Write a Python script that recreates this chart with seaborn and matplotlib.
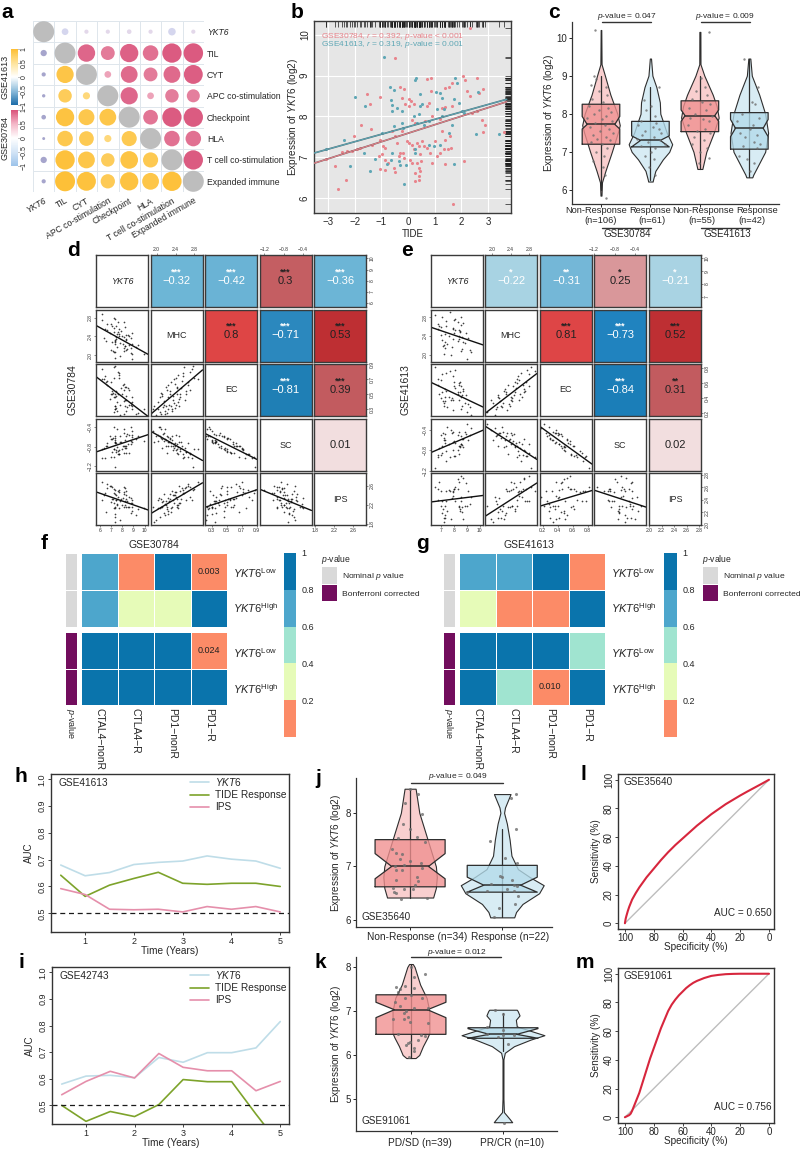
import numpy as np
import pandas as pd
import matplotlib
matplotlib.use("Agg")
import matplotlib.pyplot as plt
from matplotlib.colors import ListedColormap, LinearSegmentedColormap, Normalize
from matplotlib.cm import ScalarMappable
from matplotlib.patches import Rectangle
import seaborn as sns

sns.set_theme(style="ticks")
plt.rcParams['font.family'] = ['Liberation Sans', 'DejaVu Sans']
plt.rcParams['mathtext.fontset'] = 'custom'
plt.rcParams['mathtext.rm'] = 'Liberation Sans'
plt.rcParams['mathtext.it'] = 'Liberation Sans:italic'
plt.rcParams['mathtext.bf'] = 'Liberation Sans:bold'
plt.rcParams['axes.unicode_minus'] = True

# ---------------- DATA ----------------
# panel a
a_labels = ['YKT6', 'TIL', 'CYT', 'APC co-stimulation', 'Checkpoint', 'HLA', 'T cell co-stimulation', 'Expanded immune']
a_30784 = [
    [1, -.32, .2, .2, .22, .2, -.36, .2],
    [0, 1, .83, .66, .87, .74, .92, .93],
    [0, 0, 1, .32, .8, .66, .8, .9],
    [0, 0, 0, 1, .82, .32, .64, .62],
    [0, 0, 0, 0, 1, .7, .92, .92],
    [0, 0, 0, 0, 0, 1, .74, .74],
    [0, 0, 0, 0, 0, 0, 1, .92],
    [0, 0, 0, 0, 0, 0, 0, 1]]
a_41613 = [
    [1, 0, 0, 0, 0, 0, 0, 0],
    [-.3, 1, 0, 0, 0, 0, 0, 0],
    [-.2, .82, 1, 0, 0, 0, 0, 0],
    [-.16, .64, .34, 1, 0, 0, 0, 0],
    [-.22, .87, .76, .8, 1, 0, 0, 0],
    [-.14, .74, .7, .34, .72, 1, 0, 0],
    [-.3, .92, .8, .64, .84, .72, 1, 0],
    [-.2, .95, .9, .68, .87, .8, .92, 1]]

# panel b
b_x_30784 = [-2.62,-2.72,-2.31,-3.07,-2.47,-2.29,-2.10,-1.91,-1.79,-1.33,-1.38,-2.04,-1.75,-1.05,-1.55,-1.43,-.48,-.29,-.13,-.22,
             .05,.12,-.10,.03,.21,.71,.86,.85,1.40,1.55,1.65,2.05,2.15,2.59,2.21,2.34,2.81,2.65,2.34,1.65,
             1.28,.78,.71,2.78,2.88,2.80,3.59,2.59,2.40,1.40,1.21,.90,.65,.15,.28,-.22,-.60,-1.04,-.95,-.85,
             -.48,-.41,-.29,-.16,-.04,.03,.15,.34,.40,.52,.21,.09,.15,.34,.46,.50,.40,.46,.25,.28,
             .40,.43,-.20,-.35,-.48,-.85,-1.04,-.98,-1.10,-.85,-.73,-.54,1.03,1.28,1.40,1.59,1.63,1.50,1.34,1.21,
             1.09,.84,.71,.59,1.69,2.11,.90,1.40]
b_y_30784 = [6.22,6.78,6.43,6.96,7.12,7.15,7.15,7.19,7.23,7.31,7.70,7.52,7.80,8.48,8.54,8.30,9.44,8.73,8.68,8.46,
             8.42,8.38,8.30,8.25,8.30,8.91,8.94,8.62,8.70,8.73,8.81,8.98,8.89,8.95,8.62,8.50,8.68,8.58,10.16,8.25,
             8.21,8.34,8.25,7.91,7.79,7.61,7.61,8.13,8.09,8.24,7.93,8.01,7.89,7.91,7.83,7.64,7.64,7.43,7.27,7.23,
             7.52,7.35,7.11,6.98,7.39,7.35,7.31,7.35,7.27,7.39,7.19,6.94,6.86,6.86,7.07,6.90,6.74,6.66,6.61,6.41,
             6.53,6.45,7.09,7.02,6.63,6.68,6.70,7.07,7.02,6.94,6.86,6.74,7.39,7.64,7.43,7.52,7.23,7.19,7.19,7.11,
             7.02,7.11,7.23,7.27,5.84,6.90,6.86,6.82]
b_x_41613 = [-.91,-2.0,-1.6,-.66,-.51,-.63,-.58,-.60,-.41,-.22,.25,.30,.46,1.05,1.21,1.28,1.78,1.84,2.61,1.71,
             1.93,.46,.43,.52,1.09,1.34,.80,.59,.21,.34,-.22,-.20,-.54,-.98,-2.38,-3.07,-1.63,-1.25,-1.44,-2.19,
             -.60,-.63,-.79,-.33,-.29,-.08,-.16,.28,.25,.78,.96,1.53,1.71,2.55,3.40,2.09,1.65,2.03,1.28,1.21]
b_y_41613 = [9.46,8.48,8.25,8.72,8.65,8.40,8.27,8.13,8.21,8.13,8.89,8.95,8.56,8.60,8.58,8.46,8.93,8.83,8.60,8.42,
             8.34,8.25,8.05,8.30,8.17,8.17,7.89,7.80,8.01,7.84,7.84,7.72,7.76,7.60,7.42,7.19,7.11,6.96,6.66,6.78,
             7.11,6.94,6.82,6.90,6.80,6.80,6.33,7.11,7.19,7.31,7.27,7.60,6.82,7.56,7.56,8.09,7.80,8.13,8.01,7.31]

# panel c
c1_level = [5.85,6.2,6.5,7.0,7.5,7.7,8.0,8.5,9.0,9.3,10.2]
c1_width = [.01,.02,.09,.22,.34,.38,.33,.19,.08,.012,.006]
c2_level = [6.22,6.28,6.5,6.8,7.0,7.2,7.5,8.0,8.3,8.7,9.0,9.45]
c2_width = [.045,.055,.1,.25,.38,.44,.33,.2,.19,.12,.04,.012]
c3_level = [6.55,7.0,7.5,7.9,8.2,8.5,9.0,9.3,10.15]
c3_width = [.05,.13,.28,.38,.34,.26,.09,.012,.01]
c4_level = [6.33,6.4,6.7,7.0,7.5,8.0,8.5,9.0,9.45]
c4_width = [.06,.08,.2,.32,.38,.32,.2,.05,.02]
c_boxes = [(7.2,7.6,7.72,7.93,8.25,.28), (7.13,7.13,7.3,7.42,7.8,.2), (7.53,7.8,7.95,8.1,8.34,.3), (7.07,7.4,7.62,7.85,8.03,.28)]
c_whisk = [(6.0,9.0), (6.25,8.7), (6.55,9.0), (6.35,9.45)]
c1_py = [9.0,8.9,8.75,8.7,8.6,8.5,8.4,8.3,8.2,8.15,8.1,8.05,8.0,7.95,7.9,7.85,7.8,7.75,7.7,7.65,7.6,7.55,7.5,7.45,7.4,7.35,7.3,7.25,7.2,7.1,7.0,6.9,6.75,6.6,6.4,10.2,5.8]
c1_px = [-.15,-.1,-.2,.1,-.05,.12,-.18,.05,-.25,.15,-.05,.2,-.15,.1,-.28,.02,.22,-.12,.08,-.22,.16,-.02,.25,-.16,.1,-.08,.18,-.2,.03,.12,-.1,.07,-.17,.05,.09,-.13,.1]
c2_py = [8.7,8.35,8.2,8.1,7.95,7.8,7.75,7.7,7.65,7.6,7.55,7.5,7.45,7.4,7.35,7.3,7.25,7.2,7.15,7.1,7.0,6.9,6.8,6.6,6.4]
c2_px = [.17,-.12,.02,-.08,.1,-.2,.12,-.25,.05,.18,-.1,.22,-.18,.08,-.28,.2,-.05,.3,-.2,.1,.02,-.1,.08,-.02,.1]
c3_py = [10.15,8.95,8.7,8.6,8.5,8.4,8.3,8.25,8.15,8.1,8.0,7.95,7.9,7.85,7.8,7.7,7.6,7.55,7.5,7.4,7.3,7.2,7.1,7.0,6.85,6.7]
c3_px = [.19,.02,.1,-.08,.14,-.15,.05,.2,-.22,.12,-.1,.24,-.2,.06,.18,-.25,.1,-.05,.2,-.12,.08,-.15,.15,.0,.18,-.02]
c4_py = [9.45,8.7,8.3,8.25,8.0,7.9,7.8,7.7,7.6,7.5,7.45,7.4,7.25,7.2,7.15,7.1,6.9,6.8,6.7,6.5]
c4_px = [-.1,.17,.05,.12,-.15,.2,-.25,.08,.02,-.18,.15,-.08,.1,.22,-.12,.16,-.2,-.05,.1,.02]

# panels d / e
pair_names = ['YKT6', 'MHC', 'EC', 'SC', 'IPS']
d_ykt6 = [8.9,7.76,8.9,7.32,8.8,7.38,9.95,8.12, 8.34,7.26,8.78,7.16,8.44,9.22,7.0,8.2, 7.54,8.58,8.18,7.3,8.2,7.78,9.4,7.3, 8.06,7.32,8.88,8.34,7.1,8.34,6.58,8.74,
          7.3,8.12,7.44,8.58,6.4,8.0,7.46,8.54, 7.66,7.5,8.3,6.92,7.68,7.6,8.9,6.64, 7.28,7.74,7.84,8.26,6.42,7.4,7.28,6.66, 7.1,7.6,6.98,6.22,8.18,7.26,7.34,6.2]
d_mhc = [1.92,1.98,2.02,1.95,2.05,2.08,2.03,2.10, 2.12,2.07,2.15,2.10,2.14,2.18,2.12,2.20, 2.17,2.22,2.16,2.24,2.20,2.26,2.22,2.28, 2.25,2.30,2.24,2.32,2.28,2.34,2.30,2.36,
         2.32,2.38,2.34,2.40,2.37,2.42,2.38,2.44, 2.41,2.46,2.43,2.48,2.45,2.50,2.47,2.53, 2.50,2.56,2.52,2.59,2.55,2.62,2.58,2.66, 2.62,2.70,2.66,2.74,2.70,2.80,2.76,2.88]
d_ec = [.30,.22,.40,.34,.20,.46,.30,.24, .48,.27,.36,.52,.33,.24,.50,.35, .28,.56,.41,.30,.60,.36,.25,.50, .62,.34,.46,.28,.55,.43,.66,.38,
        .30,.64,.48,.36,.70,.50,.32,.58, .72,.40,.60,.44,.76,.50,.35,.68, .46,.78,.58,.42,.74,.55,.86,.62, .50,.80,.66,.84,.56,.72,.88,.70]
d_sc = [-.47,-.57,-.55,-.71,-.40,-.59,-.69,-.43, -.83,-.40,-.69,-.63,-.53,-.64,-.65,-.66, -.43,-.93,-.52,-.70,-.79,-.71,-.58,-.63, -.79,-.73,-.61,-.59,-.65,-.78,-.79,-.75,
        -.67,-.79,-.87,-.55,-.82,-.85,-.73,-.75, -.87,-.80,-.93,-.57,-.95,-.88,-.70,-.79, -.85,-.95,-.71,-.83,-1.04,-.90,-1.01,-.73, -.90,-.95,-1.01,-1.03,-.93,-.84,-1.21,-.85]
d_ips = [2.15,1.88,2.29,1.85,2.35,1.94,2.14,2.16, 2.16,2.13,2.03,2.31,2.27,1.98,2.25,2.27, 2.21,2.15,2.43,2.00,2.19,2.27,2.11,2.42, 2.34,2.13,2.08,2.48,2.32,2.40,2.05,2.23,
         2.15,2.47,2.29,2.37,2.41,2.20,2.41,2.16, 2.46,2.20,2.31,2.59,2.14,2.49,2.23,2.54, 2.24,2.51,2.31,2.55,2.45,2.30,2.44,2.64, 2.57,2.37,2.58,2.29,2.56,2.53,2.51,2.67]
d_text = {(0,1):-.32,(0,2):-.42,(0,3):.3,(0,4):-.36,(1,2):.8,(1,3):-.71,(1,4):.53,(2,3):-.81,(2,4):.39,(3,4):.01}
d_star = {(0,1):'***',(0,2):'***',(0,3):'***',(0,4):'***',(1,2):'***',(1,3):'***',(1,4):'***',(2,3):'***',(2,4):'***',(3,4):''}
d_fill = {(0,1):'#6DB6D6',(0,2):'#6AB3D5',(0,3):'#C45E62',(0,4):'#6CB5D6',(1,2):'#DE4545',(1,3):'#2B88BE',(1,4):'#BE2F33',(2,3):'#1F7FB5',(2,4):'#C25B5F',(3,4):'#F2DEDF'}

e_ykt6 = [9.04,7.26,9.3,7.8,9.25,7.34,8.58,7.13, 8.61,7.45,7.87,8.72,7.22,8.28,8.86,7.91, 7.29,9.09,7.05,8.4,8.4,6.97,8.62,8.03, 7.64,8.44,7.33,8.06,8.91,6.78,8.45,7.9,
          8.37,6.88,7.92,8.54,7.01,8.69,7.36,7.42, 6.8,8.1,8.35,7.09,8.04,6.54,8.53,7.73]
e_mhc = [1.90,2.02,2.06,1.98,2.10,2.14,2.08,2.18, 2.12,2.22,2.16,2.26,2.20,2.30,2.24,2.33, 2.28,2.36,2.31,2.40,2.34,2.43,2.38,2.46, 2.41,2.49,2.44,2.52,2.47,2.55,2.50,2.58,
         2.53,2.61,2.56,2.64,2.59,2.68,2.62,2.72, 2.66,2.76,2.70,2.80,2.74,2.85,2.80,2.92]
e_ec = [.22,.34,.18,.38,.28,.42,.26,.36, .44,.28,.40,.50,.30,.46,.34,.24, .52,.32,.48,.38,.58,.40,.30,.56, .42,.62,.36,.54,.44,.66,.48,.38,
        .60,.46,.70,.42,.64,.52,.74,.50, .58,.78,.48,.72,.62,.82,.56,.76]
e_sc = [-.29,-.59,-.36,-.41,-.50,-.48,-.52,-.46, -.70,-.34,-.46,-.73,-.56,-.51,-.44,-.45, -.60,-.59,-.71,-.45,-.87,-.50,-.58,-.62, -.68,-.71,-.65,-.66,-.48,-.92,-.73,-.63,
        -.71,-.75,-.80,-.68,-.89,-.58,-1.0,-.81, -.89,-.90,-.79,-.85,-.91,-1.14,-.68,-.93]
e_ips = [2.31,2.05,2.44,2.09,2.33,2.11,2.38,2.25, 2.20,2.23,2.43,2.10,2.11,2.58,2.31,2.55, 2.16,2.54,2.19,2.69,2.29,2.31,2.28,2.58, 2.56,2.26,2.31,2.60,2.67,2.40,2.23,2.46,
         2.30,2.69,2.52,2.44,2.55,2.75,2.55,2.38, 2.57,2.39,2.73,2.39,2.57,2.61,2.79,2.55]
e_text = {(0,1):-.22,(0,2):-.31,(0,3):.25,(0,4):-.21,(1,2):.81,(1,3):-.73,(1,4):.52,(2,3):-.84,(2,4):.31,(3,4):.02}
e_star = {(0,1):'*',(0,2):'**',(0,3):'*',(0,4):'*',(1,2):'***',(1,3):'***',(1,4):'***',(2,3):'***',(2,4):'**',(3,4):''}
e_fill = {(0,1):'#A8D3E3',(0,2):'#74B7D7',(0,3):'#D9979A',(0,4):'#A9D3E3',(1,2):'#DE4546',(1,3):'#2083BF',(1,4):'#BE2F33',(2,3):'#1B7EB8',(2,4):'#C25B5F',(3,4):'#F2DEDF'}

# panels f / g
hm_cols = ['CTAL4\u2212nonR', 'CTLA4\u2212R', 'PD1\u2212nonR', 'PD1\u2212R']
hm_colors = ['#FC8B67', '#E6FBB8', '#A0E4D0', '#4DA6CC', '#0A74AC']
f_top = [[.7, .1, .9, .003], [.7, .3, .3, .9]]
f_bot = [[.9, .9, .9, .024], [.9, .9, .9, .9]]
f_top_txt = [['', '', '', '0.003'], ['', '', '', '']]
f_bot_txt = [['', '', '', '0.024'], ['', '', '', '']]
g_top = [[.7, .7, .9, .1], [.3, .1, .1, .9]]
g_bot = [[.9, .9, .9, .5], [.9, .5, .01, .9]]
g_top_txt = [['', '', '', ''], ['', '', '', '']]
g_bot_txt = [['', '', '', ''], ['', '', '0.010', '']]

# panels h / i
years = [.5, 1, 1.5, 2, 2.5, 3, 3.5, 4, 4.5, 5]
h_ykt6 = [.68,.64,.652,.682,.69,.695,.714,.702,.695,.668]
h_tide = [.642,.563,.605,.63,.653,.612,.608,.612,.612,.60]
h_ips = [.592,.57,.515,.513,.515,.505,.525,.515,.525,.505]
i_ykt6 = [.58,.61,.613,.604,.68,.662,.698,.698,.716,.815]
i_tide = [.50,.44,.477,.458,.503,.597,.589,.589,.467,.35]
i_ips = [.54,.59,.628,.603,.695,.643,.63,.63,.555,.59]

# panels j / k
j1_level = [6.42,6.6,6.8,7.0,7.5,8.0,8.45]
j1_width = [.25,.28,.29,.28,.19,.1,.06]
j2_level = [6.05,6.15,6.3,6.5,6.65,6.8,6.95,7.2,7.5,7.8,8.0,8.1,8.35]
j2_width = [.13,.15,.22,.4,.45,.3,.17,.1,.08,.05,.02,.03,.09]
j_boxes = [(6.62,6.77,7.0,7.24,7.5,.2), (6.52,6.52,6.65,6.8,7.02,.2)]
j_whisk = [(6.42,8.45), (6.05,7.7)]
j1_py = [8.44,8.36,8.19,7.98,7.8,7.69,7.53,7.55,7.45,7.33,7.26,7.23,7.13,7.11,7.0,7.02,7.07,6.97,6.93,6.94,6.8,6.72,6.74,6.66,6.6,6.58,6.58,6.52,6.5,6.4,6.41]
j1_px = [0,.09,-.05,.13,-.08,0,-.13,.08,.16,-.2,-.15,-.09,-.11,0,-.16,-.07,.12,.13,-.15,-.09,.07,.09,-.15,.05,-.19,-.07,.03,-.18,-.15,-.1,.18]
j2_py = [8.36,8.28,7.69,7.48,7.16,7.07,6.83,6.8,6.74,6.68,6.66,6.64,6.57,6.55,6.54,6.52,6.44,6.3,6.22,6.05]
j2_px = [.15,.09,.15,-.13,.03,.16,-.02,0,.11,-.12,.13,.16,.05,.13,-.16,-.38,.17,.14,-.04,-.09]
k1_level = [5.93,6.0,6.2,6.4,6.5,6.75,7.0,7.3,7.6,8.0,8.07]
k1_width = [.05,.09,.13,.18,.2,.2,.2,.17,.1,.04,.02]
k2_level = [4.47,4.55,4.7,5.0,5.9,6.05,6.2,6.35,6.45,6.55,6.65,6.8,6.9,7.0,7.03]
k2_width = [.1,.07,.01,.005,.005,.02,.12,.3,.45,.3,.15,.14,.18,.16,.15]
k_boxes = [(6.47,6.85,7.03,7.2,7.37,.18), (6.38,6.38,6.47,6.6,6.62,.15)]
k_whisk = [(5.93,8.07), (6.1,6.95)]
k1_py = [8.0,7.84,7.78,7.55,7.58,7.5,7.44,7.53,7.29,7.36,7.3,7.12,7.21,7.06,7.0,7.06,6.83,6.95,6.87,6.82,6.76,6.72,6.47,6.44,6.45,6.3,6.27,6.34,6.22,6.15,6.08,5.95]
k1_px = [0,.15,.03,-.16,-.07,-.12,-.14,.03,-.07,0,.12,-.12,-.17,.03,-.05,.19,-.19,-.08,-.03,-.08,-.01,.19,-.14,.15,.11,-.01,-.03,.08,-.05,.03,.03,-.02]
k2_py = [7.02,6.93,6.64,6.58,6.45,6.48,6.45,6.42,6.24,4.45]
k2_px = [-.09,0,-.17,0,0,-.17,.12,-.05,.06,.01]

# panels l / m
l_spec = [100,99.5,99,98,97,95,92.5,90,87.5,85,82.5,80,75,70,65,60,55,50,45,40,35,30,25,20,15,10,5,0]
l_sens = [0,3,5,8.5,11.5,16.5,21,25,28.5,32,35,38,44,49.5,54.5,59,63.5,68,72,76,79.5,83,86,89,91.8,94.5,97.2,100]
m_spec = [100,99,98,97,96,95,94,92,90,87.5,85,82.5,80,77.5,75,72.5,70,67.5,65,62.5,60,57.5,55,52.5,50,45,40,35,30,25,20,10,0]
m_sens = [0,.5,1,1.5,2.5,4.5,7,12,17,25,33,41,48,55,62,68,74,78.5,82,85,87.5,90,92,93.7,95,97,98.5,99.2,99.7,99.9,100,100,100]

# ---------------- HELPERS ----------------
W, H = 800, 1150
fig = plt.figure(figsize=(W/100, H/100), dpi=100, facecolor='white')
DARK = '#2e2e2e'
TXT = '#262626'

def axp(x0, y0, x1, y1):
    return fig.add_axes([x0/W, 1-y1/H, (x1-x0)/W, (y1-y0)/H])

def ptext(x, y, s, **kw):
    kw.setdefault('color', TXT)
    kw.setdefault('va', 'center')
    return fig.text(x/W, 1-y/H, s, **kw)

def prect(x0, y0, x1, y1, color):
    fig.add_artist(Rectangle((x0/W, 1-y1/H), (x1-x0)/W, (y1-y0)/H, transform=fig.transFigure, facecolor=color, edgecolor='none'))

def pline(x0, x1, y, lw=1.0, color='#333333'):
    fig.add_artist(plt.Line2D([x0/W, x1/W], [1-y/H, 1-y/H], transform=fig.transFigure, color=color, lw=lw))

for lt, lx, ly in [('a',1,13),('b',291,13),('c',548,13),('d',67,250),('e',401,250),('f',41,543),('g',416,543),
                   ('h',15,776),('i',18,963),('j',315,778),('k',315,963),('l',580,775),('m',576,962)]:
    ptext(lx, ly, lt, fontsize=15, fontweight='bold', color='black')

# ---------------- panel a ----------------
ax = axp(33, 21, 204, 192)
rows, cols, sizes, colors = [], [], [], []
pink = LinearSegmentedColormap.from_list('pk', ['#F6C9D6', '#D9527A'])
yel = LinearSegmentedColormap.from_list('yl', ['#FEE5A0', '#FDBE33'])
for i in range(8):
    for j in range(8):
        if i == j:
            v, c = 1, '#BDBDBD'
        elif j > i:
            v = a_30784[i][j]
            c = '#D5D6EE' if v < 0 else ('#E3D8EA' if v < .25 else pink(v))
        else:
            v = a_41613[i][j]
            c = '#A6A5CC' if v < 0 else yel(v)
        rows.append(i); cols.append(j); sizes.append((21*abs(v)*.72)**2); colors.append(c)
ax.scatter(cols, rows, s=sizes, c=colors, linewidths=0, zorder=3)
ax.set_xlim(-.5, 7.5); ax.set_ylim(7.5, -.5)
ax.set_xticks(range(8)); ax.set_yticks(range(8))
ax.set_xticks(np.arange(-.5, 8), minor=True); ax.set_yticks(np.arange(-.5, 8), minor=True)
ax.grid(which='minor', color='#DFE6EC', lw=.7); ax.grid(which='major', visible=False)
ax.tick_params(which='both', length=0)
ax.yaxis.tick_right()
ax.set_yticklabels(a_labels, fontsize=6.2, color=TXT)
ax.set_xticklabels(a_labels, fontsize=6.2, color=TXT, rotation=30, ha='right', rotation_mode='anchor')
ax.get_yticklabels()[0].set_style('italic'); ax.get_xticklabels()[0].set_style('italic')
ax.tick_params(axis='y', pad=2); ax.tick_params(axis='x', pad=3)
for s in ax.spines.values():
    s.set_visible(False)
for (y0, y1, cols_cb, name) in [(49, 105, ['#1C6CA8', '#8DBCDB', '#FFFFFF', '#FEE39A', '#FDBE33'], 'GSE41613'),
                                (110, 166, ['#9CC3EA', '#D3E4F6', '#FFFFFF', '#F4B7C8', '#D9527A'], 'GSE30784')]:
    cax = axp(11, y0, 18, y1)
    cb = fig.colorbar(ScalarMappable(Normalize(-1, 1), LinearSegmentedColormap.from_list(name, cols_cb)), cax=cax)
    cb.outline.set_visible(False)
    cb.set_ticks([-1, -.5, 0, .5, 1]); cb.set_ticklabels(['\u22121', '\u22120.5', '0', '0.5', '1'])
    cax.tick_params(labelsize=5, length=1, width=.4, pad=1, labelcolor=TXT)
    for t in cax.get_yticklabels():
        t.set_rotation(90); t.set_va('center')
    ptext(5.5, (y0+y1)/2, name, rotation=90, ha='center', fontsize=6.5)

# ---------------- panel b ----------------
ax = axp(314, 21, 511, 213)
ax.set_xlim(-3.52, 3.86); ax.set_ylim(5.63, 10.34)
ax.set_facecolor('#E6E6E6')
ax.grid(color='white', lw=.8, zorder=0); ax.set_axisbelow(True)
PK, BL = '#E8848C', '#5FA7B5'
sns.scatterplot(x=b_x_30784, y=b_y_30784, color=PK, s=5, linewidth=0, ax=ax, zorder=3)
sns.scatterplot(x=b_x_41613, y=b_y_41613, color=BL, s=5, linewidth=0, ax=ax, zorder=3)
ax.plot([-3.52, 3.7], [6.85, 8.36], color='#7a5a5e', lw=1.2, zorder=4)
ax.plot([-3.52, 3.7], [6.85, 8.36], color=PK, lw=.7, zorder=4)
ax.plot([-3.52, 3.7], [7.1, 8.42], color='#4f6f78', lw=1.2, zorder=4)
ax.plot([-3.52, 3.7], [7.1, 8.42], color=BL, lw=.7, zorder=4)
ax.vlines(b_x_30784 + b_x_41613, .97, 1, transform=ax.get_xaxis_transform(), color='k', lw=.5)
ax.hlines(b_y_30784 + b_y_41613, .97, 1, transform=ax.get_yaxis_transform(), color='k', lw=.5)
ax.set_xticks(range(-3, 4)); ax.set_yticks(range(6, 11))
ax.tick_params(labelsize=7, length=0, pad=3, labelcolor=TXT)
ax.set_xticklabels(['\u22123', '\u22122', '\u22121', '0', '1', '2', '3'])
for t in ax.get_yticklabels():
    t.set_rotation(90); t.set_va('center')
ax.set_xlabel('TIDE', fontsize=7, color=TXT, labelpad=1)
ax.set_ylabel(r'Expression of $\mathit{YKT6}$ (log2)', fontsize=7.2, color=TXT, labelpad=0)
for s in ax.spines.values():
    s.set_color('#3a3a3a'); s.set_linewidth(1)
ptext(321, 36, r'GSE30784, $\mathit{r}$ = 0.392, $\mathit{p}$-value < 0.001', color=PK, fontsize=6)
ptext(321, 45, r'GSE41613, $\mathit{r}$ = 0.319, $\mathit{p}$-value = 0.001', color=BL, fontsize=6)

# ---------------- violins ----------------
V_RED, B_RED, V_BLU, B_BLU = '#F9CFCF', '#F08F8F', '#D8ECF4', '#B3DBEA'
PCOL = '#6f6f6f'

def violin(ax, c, lev, wid, box, whisk, vc, bc, px, py, hw=.38, s=3):
    lev, wid = np.array(lev), np.array(wid)
    ax.fill_betweenx(lev, c-wid, c+wid, facecolor=vc, edgecolor=DARK, lw=.8, zorder=2)
    ax.plot([c, c], whisk, color=DARK, lw=.9, zorder=3)
    q1, nl, med, nh, q3, mh = box
    xs = [c-hw, c+hw, c+hw, c+mh, c+hw, c+hw, c-hw, c-hw, c-mh, c-hw, c-hw]
    ys = [q1, q1, nl, med, nh, q3, q3, nh, med, nl, q1]
    ax.fill(xs, ys, facecolor=bc, edgecolor='none', alpha=.78, zorder=4)
    ax.plot(xs, ys, color=DARK, lw=.9, zorder=5)
    ax.plot([c-mh, c+mh], [med, med], color=DARK, lw=1.1, zorder=5)
    sns.scatterplot(x=c+np.array(px), y=py, color=PCOL, s=s, alpha=.8, linewidth=0, ax=ax, zorder=6)

def open_axes(ax):
    sns.despine(ax=ax)
    for sp in ('left', 'bottom'):
        ax.spines[sp].set_color('#333333'); ax.spines[sp].set_linewidth(.9)
    ax.tick_params(length=2, width=.7, labelsize=7, pad=1.5, labelcolor=TXT)

# panel c
ax = axp(572, 22, 779, 204)
violin(ax, 0, c1_level, c1_width, c_boxes[0], c_whisk[0], V_RED, B_RED, c1_px, c1_py)
violin(ax, 1, c2_level, c2_width, c_boxes[1], c_whisk[1], V_BLU, B_BLU, c2_px, c2_py)
violin(ax, 2, c3_level, c3_width, c_boxes[2], c_whisk[2], V_RED, B_RED, c3_px, c3_py)
violin(ax, 3, c4_level, c4_width, c_boxes[3], c_whisk[3], V_BLU, B_BLU, c4_px, c4_py)
ax.set_xlim(-.586, 3.6); ax.set_ylim(5.63, 10.41)
open_axes(ax)
ax.set_xticks([0, 1, 2, 3]); ax.set_xticklabels([])
ax.set_yticks(range(6, 11))
ax.set_ylabel(r'Expression of $\mathit{YKT6}$ (log2)', fontsize=7.2, color=TXT, labelpad=0)
for xx, tt in [(596, 'Non-Response'), (650, 'Response'), (703, 'Non-Response'), (757.5, 'Response')]:
    ptext(xx, 210.5, tt, fontsize=6.7, ha='center')
for xx, tt in [(601, '(n=106)'), (652, '(n=61)'), (702, '(n=55)'), (752, '(n=42)')]:
    ptext(xx, 220.5, tt, fontsize=6.7, ha='center')
pline(602, 651, 22); pline(701, 750, 22)
ptext(627, 16.5, r'$\mathit{p}$-value = 0.047', fontsize=6, ha='center')
ptext(725, 16.5, r'$\mathit{p}$-value = 0.009', fontsize=6, ha='center')
pline(602, 651, 228); pline(701, 750, 228)
ptext(627, 234, 'GSE30784', fontsize=7, ha='center')
ptext(727, 234, 'GSE41613', fontsize=7, ha='center')

# panel j
ax = axp(356, 778, 552, 927)
violin(ax, 0, j1_level, j1_width, j_boxes[0], j_whisk[0], V_RED, B_RED, j1_px, j1_py, s=5)
violin(ax, 1, j2_level, j2_width, j_boxes[1], j_whisk[1], V_BLU, B_BLU, j2_px, j2_py, s=5)
ax.set_xlim(-.587, 1.54); ax.set_ylim(5.87, 8.65)
open_axes(ax)
ax.set_xticks([0, 1]); ax.set_xticklabels([])
ptext(417, 937, 'Non-Response (n=34)', fontsize=7.3, ha='center')
ptext(510, 937, 'Response (n=22)', fontsize=7.3, ha='center')
ax.set_yticks([6, 7, 8])
ax.set_ylabel(r'Expression of $\mathit{YKT6}$ (log2)', fontsize=7.2, color=TXT, labelpad=2)
ptext(361, 917, 'GSE35640', fontsize=7.2)
pline(411, 503, 782.5)
ptext(458, 777, r'$\mathit{p}$-value = 0.049', fontsize=6, ha='center')

# panel k
ax = axp(356, 957, 557, 1131)
violin(ax, 0, k1_level, k1_width, k_boxes[0], k_whisk[0], V_RED, B_RED, k1_px, k1_py, s=5)
violin(ax, 1, k2_level, k2_width, k_boxes[1], k_whisk[1], V_BLU, B_BLU, k2_px, k2_py, s=5)
ax.set_xlim(-.597, 1.587); ax.set_ylim(4.27, 8.23)
open_axes(ax)
ax.set_xticks([0, 1]); ax.set_xticklabels([])
ptext(420, 1143, 'PD/SD (n=39)', fontsize=7.3, ha='center')
ptext(512, 1143, 'PR/CR (n=10)', fontsize=7.3, ha='center')
ax.set_yticks([5, 6, 7, 8])
ax.set_ylabel(r'Expression of $\mathit{YKT6}$ (log2)', fontsize=7.2, color=TXT, labelpad=2)
ptext(361, 1121, 'GSE91061', fontsize=7.2)
pline(411, 501, 957)
ptext(457, 952, r'$\mathit{p}$-value = 0.012', fontsize=6, ha='center')

# ---------------- panels d / e ----------------
def fmt(vals):
    out = []
    for t in vals:
        body = '%d' % abs(t) if isinstance(t, int) else '%.1f' % abs(t)
        out.append(('\u2212' + body) if t < 0 else body)
    return out

def pairs(xs, data, lims, ticks, fills, texts, stars, w):
    ys = [255, 309.5, 364, 419, 473]
    for i in range(5):
        for j in range(5):
            ax = axp(xs[j], ys[i], xs[j]+w, ys[i]+52)
            ax.set_xlim(lims[j]); ax.set_ylim(lims[i])
            if i > j:
                sns.regplot(x=data[j], y=data[i], ax=ax, ci=None, truncate=False,
                            scatter_kws=dict(s=1.5, color='#111111', linewidths=0),
                            line_kws=dict(color='#111111', lw=1))
                ax.set_xlim(lims[j]); ax.set_ylim(lims[i])
                ax.set_xlabel(''); ax.set_ylabel('')
            elif i < j:
                ax.set_facecolor(fills[(i, j)])
                v = texts[(i, j)]
                col = 'white' if v < 0 else '#222222'
                lab = ('\u2212%g' % abs(v)) if v < 0 else ('%g' % v)
                ax.text(.5, .5, lab, transform=ax.transAxes, ha='center', va='center', fontsize=8, color=col)
                if stars[(i, j)]:
                    ax.text(.5, .68, stars[(i, j)], transform=ax.transAxes, ha='center', va='center', fontsize=6.5, color=col, fontweight='bold')
            else:
                ax.text(.5, .5, pair_names[i], transform=ax.transAxes, ha='center', va='center', fontsize=6.5,
                        color=TXT, style='italic' if i == 0 else 'normal')
            ax.set_xticks([]); ax.set_yticks([])
            for s in ax.spines.values():
                s.set_color('#3a3a3a'); s.set_linewidth(1)
            kw = dict(length=1.6, width=.4, pad=.8, labelsize=3.6, labelcolor='#333333', color='#333333')
            if i == 0 and j in (1, 3):
                ax.xaxis.tick_top(); ax.set_xticks(ticks[j]); ax.set_xticklabels(fmt(ticks[j])); ax.tick_params(axis='x', **kw)
            if i == 4 and j in (0, 2, 4):
                ax.set_xticks(ticks[j]); ax.set_xticklabels(fmt(ticks[j])); ax.tick_params(axis='x', **kw)
            if j == 0 and i in (1, 3):
                ax.set_yticks(ticks[i]); ax.set_yticklabels(fmt(ticks[i]), rotation=90, va='center'); ax.tick_params(axis='y', **kw)
            if j == 4 and i in (0, 2, 4):
                ax.yaxis.tick_right(); ax.set_yticks(ticks[i]); ax.set_yticklabels(fmt(ticks[i]), rotation=90, va='center'); ax.tick_params(axis='y', **kw)

pairs([96, 150.5, 205, 259.5, 314], [d_ykt6, d_mhc, d_ec, d_sc, d_ips],
      [(5.64, 10.3), (1.87, 2.97), (.21, .905), (-1.30, -.23), (1.78, 2.86)],
      [[6, 7, 8, 9, 10], [2.0, 2.4, 2.8], [.3, .5, .7, .9], [-1.2, -.8, -.4], [1.8, 2.2, 2.6]],
      d_fill, d_text, d_star, 52)
pairs([431, 485, 540, 594, 649], [e_ykt6, e_mhc, e_ec, e_sc, e_ips],
      [(6.22, 10.26), (1.85, 2.97), (.165, .86), (-1.19, -.19), (2.0, 2.83)],
      [[7, 8, 9, 10], [2.0, 2.4, 2.8], [.2, .4, .6, .8], [-1.2, -.8, -.4], [2.0, 2.2, 2.4, 2.6, 2.8]],
      e_fill, e_text, e_star, 52)
ptext(72, 390, 'GSE30784', rotation=90, ha='center', fontsize=7.5)
ptext(406, 390, 'GSE41613', rotation=90, ha='center', fontsize=7.5)

# ---------------- panels f / g ----------------
hm_cmap = ListedColormap(hm_colors)
strip_cmap = ListedColormap(['#D9D9D9', '#720D5D'])

def hmap(x0, x1, sx0, sx1, cbx0, cbx1, legx, top, bot, top_t, bot_t, title, titlex):
    for (y0, y1, dat, tx, st) in [(553, 626.5, top, top_t, 0), (632, 705, bot, bot_t, 1)]:
        ax = axp(x0, y0, x1, y1)
        sns.heatmap(np.array(dat), vmin=0, vmax=1, cmap=hm_cmap, cbar=False, annot=np.array(tx), fmt='',
                    annot_kws=dict(fontsize=6.5, color='#222222'), linewidths=.4, linecolor='white',
                    xticklabels=False, yticklabels=False, ax=ax)
        ax2 = axp(sx0, y0, sx1, y1)
        sns.heatmap(np.array([[st], [st]]), vmin=0, vmax=1, cmap=strip_cmap, cbar=False, linewidths=.4, linecolor='white',
                    xticklabels=False, yticklabels=False, ax=ax2)
    rowlab = [(573, 'Low'), (608.5, 'High'), (653, 'Low'), (689, 'High')]
    for yy, tag in rowlab:
        ptext(x1+6, yy, r'$\mathit{YKT6}^{\mathrm{%s}}$' % tag, fontsize=8)
    cw = (x1-x0)/4
    for k, n in enumerate(hm_cols):
        ptext(x0+cw*(k+.5), 708, n, rotation=-90, ha='center', va='top', fontsize=7.5)
    ptext((sx0+sx1)/2, 708, r'$\mathit{p}$-value', rotation=-90, ha='center', va='top', fontsize=6.5)
    ptext(titlex, 544.5, title, ha='center', fontsize=7.5)
    cax = axp(cbx0, 553, cbx1, 737)
    cb = fig.colorbar(ScalarMappable(Normalize(0, 1), hm_cmap), cax=cax)
    cb.outline.set_visible(False)
    cb.set_ticks([.2, .4, .6, .8, 1]); cb.set_ticklabels(['0.2', '0.4', '0.6', '0.8', '1'])
    cax.tick_params(length=0, labelsize=6.5, pad=4, labelcolor=TXT)
    ptext(legx, 559, r'$\mathit{p}$-value', fontsize=6.2)
    prect(legx+.5, 567, legx+16, 583.5, '#D9D9D9')
    prect(legx+.5, 585, legx+16, 601, '#720D5D')
    ptext(legx+21, 576.5, r'Nominal $\mathit{p}$ value', fontsize=6.1)
    ptext(legx+21, 594, 'Bonferroni corrected', fontsize=6.1)

hmap(81, 227, 65, 77, 284, 296, 321, f_top, f_bot, f_top_txt, f_bot_txt, 'GSE30784', 153.5)
hmap(459, 605, 443, 454.5, 664, 677, 702, g_top, g_bot, g_top_txt, g_bot_txt, 'GSE41613', 528.5)

# ---------------- panels h / i ----------------
L_Y, L_T, L_I = '#BFDDE8', '#7DA32B', '#E58FAB'

def aucp(box, yk, ti, ip, name):
    ax = axp(*box)
    sns.lineplot(x=years, y=yk, color=L_Y, lw=1.2, label=r'$\mathit{YKT6}$', ax=ax)
    sns.lineplot(x=years, y=ti, color=L_T, lw=1.2, label='TIDE Response', ax=ax)
    sns.lineplot(x=years, y=ip, color=L_I, lw=1.2, label='IPS', ax=ax)
    ax.axhline(.5, color='k', lw=.9, ls=(0, (4, 3)))
    ax.set_xlim(.30, 5.18); ax.set_ylim(.43, 1.02)
    ax.set_xticks([1, 2, 3, 4, 5]); ax.set_yticks([.5, .6, .7, .8, .9, 1.0])
    ax.set_yticklabels(['0.5', '0.6', '0.7', '0.8', '0.9', '1.0'], rotation=90, va='center')
    ax.tick_params(labelsize=6.5, length=2, width=.6, pad=1.5, labelcolor=TXT)
    ax.set_xlabel('Time (Years)', fontsize=7.3, color=TXT, labelpad=0)
    ax.set_ylabel('AUC', fontsize=7, color=TXT, labelpad=2)
    ax.legend(loc='upper right', frameon=False, fontsize=7.3, handlelength=1.9, labelspacing=.22,
              borderaxespad=.1, borderpad=.1, handletextpad=.6, labelcolor=TXT)
    ax.text(.03, .945, name, transform=ax.transAxes, fontsize=7.3, color=TXT, va='center')
    for s in ax.spines.values():
        s.set_color('#333333'); s.set_linewidth(1)

aucp((51, 774, 289, 932), h_ykt6, h_tide, h_ips, 'GSE41613')
aucp((52, 967, 289, 1124), i_ykt6, i_tide, i_ips, 'GSE42743')

# ---------------- panels l / m ----------------
def rocp(box, xs, ys, name, auc, ylim):
    ax = axp(*box)
    sns.lineplot(x=[100, 0], y=[0, 100], color='#BDBDBD', lw=1, ax=ax)
    sns.lineplot(x=xs, y=ys, color='#D7263D', lw=1.5, ax=ax, estimator=None, sort=False)
    ax.set_xlim(104.8, -3.5); ax.set_ylim(*ylim)
    ax.set_xticks([100, 80, 60, 40, 20, 0]); ax.set_yticks([0, 20, 40, 60, 80, 100])
    ax.set_yticklabels(['0', '20', '40', '60', '80', '100'], rotation=90, va='center')
    ax.tick_params(labelsize=7, length=2, width=.6, pad=1, labelcolor=TXT)
    ax.set_xlabel('Specificity (%)', fontsize=7.2, color=TXT, labelpad=-.5)
    ax.set_ylabel('Sensitivity (%)', fontsize=7.2, color=TXT, labelpad=2)
    ax.text(.035, .95, name, transform=ax.transAxes, fontsize=7.2, color=TXT, va='center')
    ax.text(.985, .1, auc, transform=ax.transAxes, fontsize=7.2, color=TXT, va='center', ha='right')
    for s in ax.spines.values():
        s.set_color('#333333'); s.set_linewidth(1)

rocp((618, 774, 774, 929), l_spec, l_sens, 'GSE35640', 'AUC = 0.650', (-4, 104))
rocp((618, 968, 774, 1123), m_spec, m_sens, 'GSE91061', 'AUC = 0.756', (-4, 104))

fig.savefig('out.png', dpi=100, facecolor='white')
